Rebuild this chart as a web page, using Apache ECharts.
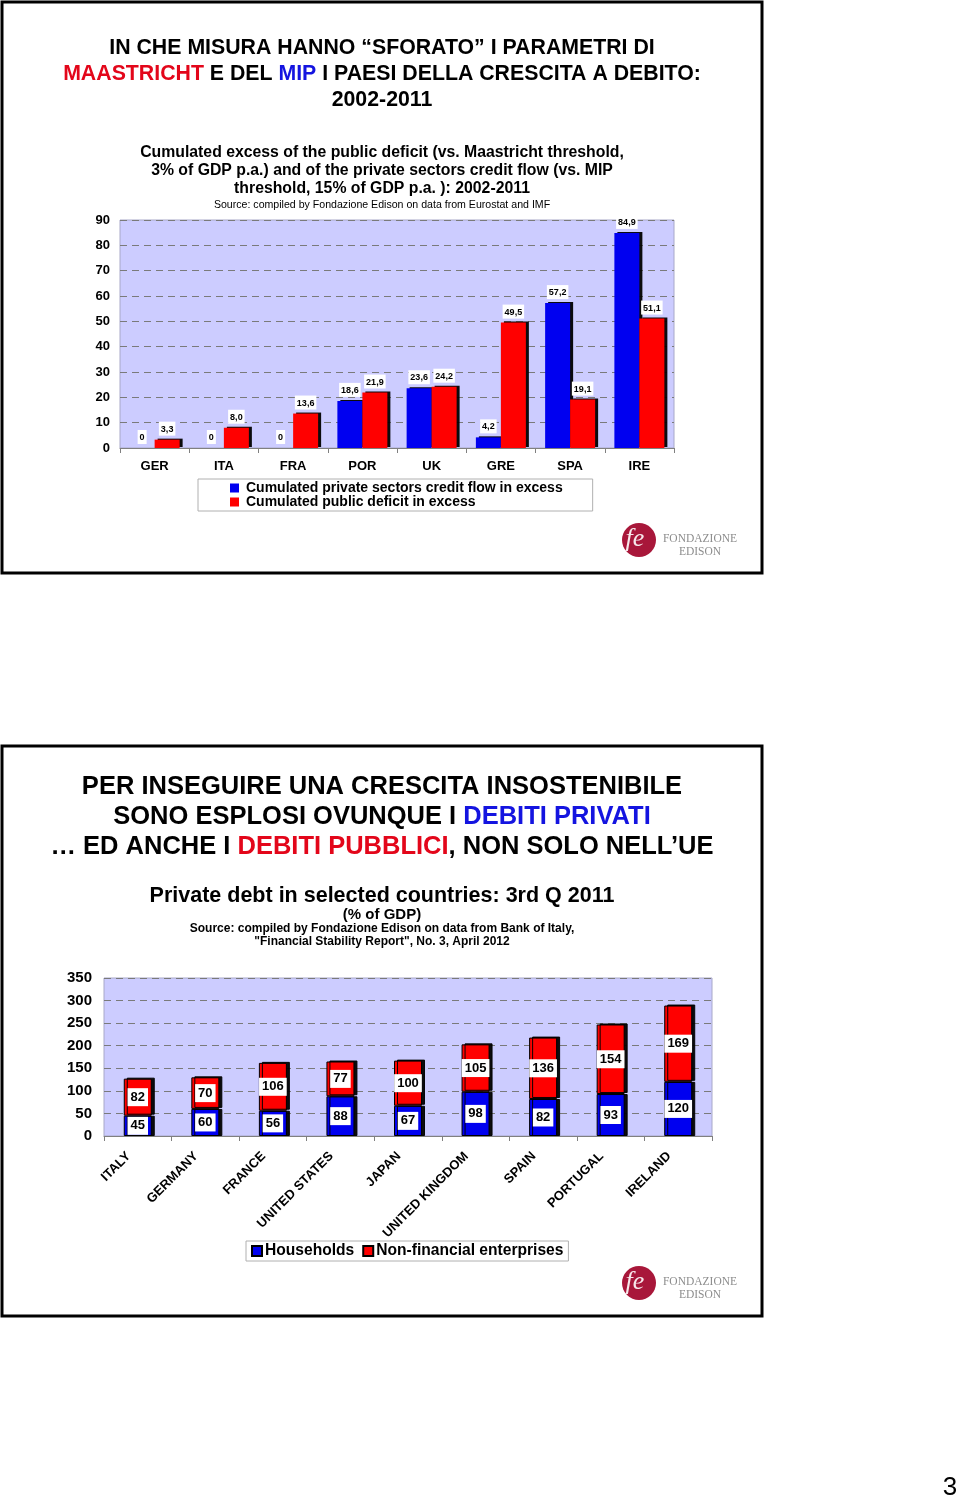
<!DOCTYPE html>
<html><head><meta charset="utf-8">
<script src="https://cdn.jsdelivr.net/npm/echarts/dist/echarts.min.js"></script>
<style>html,body{margin:0;padding:0;background:#fff}#c{width:960px;height:1501px}</style>
</head><body><div id="c"></div>
<script>
// ---- Chart 1 data ----
const topCategories = ['GER','ITA','FRA','POR','UK','GRE','SPA','IRE'];
const privateCreditExcess = [0,0,0,18.6,23.6,4.2,57.2,84.9];
const publicDeficitExcess = [3.3,8.0,13.6,21.9,24.2,49.5,19.1,51.1];
const topSeriesNames = ['Cumulated private sectors credit flow in excess','Cumulated public deficit in excess'];
// ---- Chart 2 data ----
const countries = ['ITALY','GERMANY','FRANCE','UNITED STATES','JAPAN','UNITED KINGDOM','SPAIN','PORTUGAL','IRELAND'];
const households = [45,60,56,88,67,98,82,93,120];
const nonFinancial = [82,70,106,77,100,105,136,154,169];
const bottomSeriesNames = ['Households','Non-financial enterprises'];

const FF = "'Liberation Sans', Arial, Helvetica, sans-serif";
const BLUE = '#0000F0', RED = '#FF0000';
const TRED = '#E3061A', TBLUE = '#1414E0';
const chart = echarts.init(document.getElementById('c'), null, {renderer:'canvas'});

function txt(x, y, text, size, opts) {
  opts = opts || {};
  return {
    type: 'text', silent: true,
    style: Object.assign({
      x: x, y: y, text: text,
      font: (opts.weight || 'bold') + ' ' + size + 'px ' + (opts.family || FF),
      fill: opts.fill || '#000', align: opts.align || 'center', verticalAlign: 'middle'
    }, opts.rich ? {rich: opts.rich} : {})
  };
}
function richFor(size) {
  const f = 'bold ' + size + 'px ' + FF;
  return { r: {font: f, fill: TRED}, b: {font: f, fill: TBLUE}, k: {font: f, fill: '#000'} };
}
function logo(cx, cy) {
  return {
    type: 'group', silent: true, children: [
      {type:'circle', shape:{cx:cx, cy:cy, r:17}, style:{fill:'#A8173A'}},
      {type:'text', style:{x:cx-4, y:cy-1, text:'fe', font:'italic 26px "Liberation Serif", serif', fill:'rgba(255,255,255,0.9)', align:'center', verticalAlign:'middle'}},
      {type:'text', style:{x:cx+61, y:cy-1, text:'FONDAZIONE', font:'11.5px "Liberation Serif", serif', fill:'#8c8c8c', align:'center', verticalAlign:'middle'}},
      {type:'text', style:{x:cx+61, y:cy+12, text:'EDISON', font:'11.5px "Liberation Serif", serif', fill:'#8c8c8c', align:'center', verticalAlign:'middle'}}
    ]
  };
}
const CX = 382;
const graphics = [
  {type:'rect', silent:true, shape:{x:2, y:2, width:760, height:571}, style:{fill:'none', stroke:'#000', lineWidth:3}},
  {type:'rect', silent:true, shape:{x:2, y:746, width:760, height:570}, style:{fill:'none', stroke:'#000', lineWidth:3}},
  txt(CX, 48, 'IN CHE MISURA HANNO \u201cSFORATO\u201d I PARAMETRI DI', 21.3),
  txt(CX, 74, '{r|MAASTRICHT}{k| E DEL }{b|MIP}{k| I PAESI DELLA CRESCITA A DEBITO:}', 21.3, {rich: richFor(21.3)}),
  txt(CX, 100, '2002-2011', 21.3),
  txt(CX, 153, 'Cumulated excess of the public deficit (vs. Maastricht threshold,', 15.8),
  txt(CX, 171, '3% of GDP p.a.) and of the private sectors credit flow (vs. MIP', 15.8),
  txt(CX, 189, 'threshold, 15% of GDP p.a. ): 2002-2011', 15.8),
  txt(CX, 205, 'Source: compiled by Fondazione Edison on data from Eurostat and IMF', 10.6, {weight:'normal'}),
  logo(639, 540),
  txt(CX, 787, 'PER INSEGUIRE UNA CRESCITA INSOSTENIBILE', 25.5),
  txt(CX, 817, '{k|SONO ESPLOSI OVUNQUE I }{b|DEBITI PRIVATI}', 25.5, {rich: richFor(25.5)}),
  txt(CX, 847, '{k|\u2026 ED ANCHE I }{r|DEBITI PUBBLICI}{k|, NON SOLO NELL\u2019UE}', 25.5, {rich: richFor(25.5)}),
  txt(CX, 896, 'Private debt in selected countries: 3rd Q 2011', 21.5),
  txt(CX, 915, '(% of GDP)', 15),
  txt(CX, 929, 'Source: compiled by Fondazione Edison on data from Bank of Italy,', 12),
  txt(CX, 942, '"Financial Stability Report", No. 3, April 2012', 12),
  logo(639, 1283),
  txt(950, 1488, '3', 26, {weight:'normal'})
];

const gridLine = {show:true, lineStyle:{type:[7,5], color:'#7a7a7a', width:1}};
const topLabel = {
  show:true, position:'top', distance:4,
  formatter: p => p.value === 0 ? '0' : p.value.toFixed(1).replace('.', ','),
  fontFamily: FF, fontSize:9, fontWeight:'bold', color:'#000',
  backgroundColor:'#fff', padding:[3,2,2,2]
};
const botLabel = {
  show:true, position:'inside', fontFamily:FF, fontSize:13, fontWeight:'bold', color:'#000',
  backgroundColor:'#fff', padding:[3,3,2,3]
};

chart.setOption({
  animation:false,
  backgroundColor:'#fff',
  graphic: graphics,
  legend: [
    {data: topSeriesNames, orient:'vertical', left:198, top:479, padding:[2,30,2,32], itemGap:0,
     itemWidth:9, itemHeight:9, icon:'rect', backgroundColor:'#fff', borderColor:'#b0b0b0', borderWidth:1,
     selectedMode:false,
     textStyle:{fontFamily:FF, fontSize:14, fontWeight:'bold', color:'#000', lineHeight:13, padding:[0,0,0,2]}},
    {data: bottomSeriesNames, orient:'horizontal', left:246, top:1241, padding:[2,5,2,5], itemGap:8,
     itemWidth:10, itemHeight:10, icon:'rect', backgroundColor:'#fff', borderColor:'#b0b0b0', borderWidth:1,
     selectedMode:false,
     textStyle:{fontFamily:FF, fontSize:15.6, fontWeight:'bold', color:'#000', padding:[0,0,0,-2]}}
  ],
  grid: [
    {left:120, top:220, width:554, height:228, show:true, backgroundColor:'#CCCCFF', borderColor:'#a8a8c8', borderWidth:1},
    {left:104, top:978, width:608, height:158, show:true, backgroundColor:'#CCCCFF', borderColor:'#a8a8c8', borderWidth:1}
  ],
  xAxis: [
    {type:'category', gridIndex:0, data: topCategories,
     axisLine:{lineStyle:{color:'#808080'}}, axisTick:{show:true, length:5, lineStyle:{color:'#808080'}},
     axisLabel:{fontFamily:FF, fontSize:13, fontWeight:'bold', color:'#000', margin:12}},
    {type:'category', gridIndex:1, data: countries,
     axisLine:{lineStyle:{color:'#808080'}}, axisTick:{show:true, length:5, lineStyle:{color:'#808080'}},
     axisLabel:{fontFamily:FF, fontSize:13, fontWeight:'bold', color:'#000', rotate:45, interval:0, margin:9, padding:[0,13,0,0]}}
  ],
  yAxis: [
    {type:'value', gridIndex:0, min:0, max:90, interval:10,
     axisLine:{show:false}, axisTick:{show:false}, splitLine: gridLine,
     axisLabel:{fontFamily:FF, fontSize:13, fontWeight:'bold', color:'#000', margin:10}},
    {type:'value', gridIndex:1, min:0, max:350, interval:50,
     axisLine:{show:false}, axisTick:{show:false}, splitLine: gridLine,
     axisLabel:{fontFamily:FF, fontSize:15, fontWeight:'bold', color:'#000', margin:12}}
  ],
  series: [
    {name: topSeriesNames[0], type:'bar', xAxisIndex:0, yAxisIndex:0, data: privateCreditExcess,
     barWidth:25, barGap:'0%',
     itemStyle:{color:BLUE, shadowColor:'rgba(0,0,0,0.95)', shadowOffsetX:3, shadowOffsetY:-1, shadowBlur:0},
     label: topLabel},
    {name: topSeriesNames[1], type:'bar', xAxisIndex:0, yAxisIndex:0, data: publicDeficitExcess,
     barWidth:25, barGap:'0%',
     itemStyle:{color:RED, shadowColor:'rgba(0,0,0,0.95)', shadowOffsetX:3, shadowOffsetY:-1, shadowBlur:0},
     label: topLabel},
    {name: bottomSeriesNames[0], type:'bar', xAxisIndex:1, yAxisIndex:1, data: households, stack:'debt',
     barWidth:28,
     itemStyle:{color:BLUE, borderColor:'#000', borderWidth:1, shadowColor:'rgba(0,0,0,0.95)', shadowOffsetX:3, shadowOffsetY:0, shadowBlur:0},
     label: botLabel},
    {name: bottomSeriesNames[1], type:'bar', xAxisIndex:1, yAxisIndex:1, data: nonFinancial, stack:'debt',
     barWidth:28,
     itemStyle:{color:RED, borderColor:'#000', borderWidth:1, shadowColor:'rgba(0,0,0,0.95)', shadowOffsetX:3, shadowOffsetY:-1, shadowBlur:0},
     label: botLabel}
  ]
});
</script>
</body></html>
